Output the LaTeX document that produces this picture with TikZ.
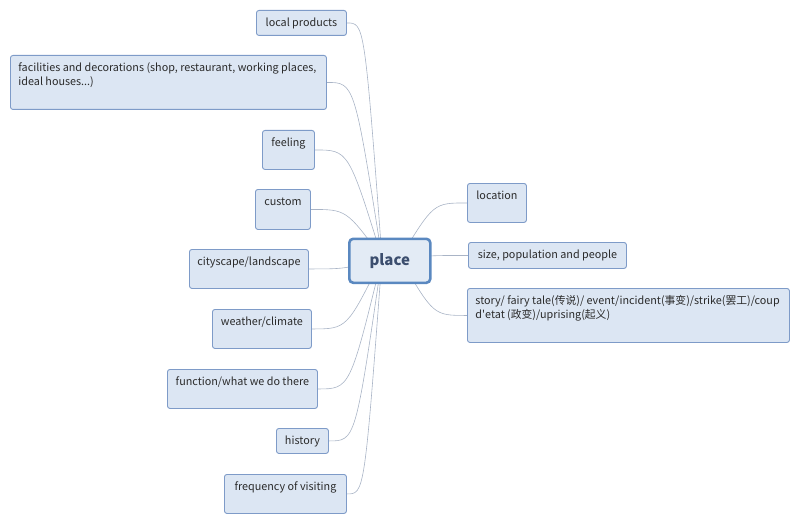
\documentclass[tikz,border=0pt]{standalone}
\usepackage{fontspec}
\setmainfont{Noto Sans CJK SC}
\usetikzlibrary{calc,backgrounds}
\definecolor{topicfill}{HTML}{DCE6F3}
\definecolor{topicdraw}{HTML}{7E9BC8}
\definecolor{hubdraw}{HTML}{5A88C0}
\definecolor{hubtext}{HTML}{3C4E6E}
\definecolor{linkgray}{HTML}{A9B4C6}
\definecolor{topictext}{HTML}{2B2B2B}
\newcommand{\twolines}[3]{\makebox[#1][l]{\begin{tabular}[t]{@{}l@{}}#2\\#3\end{tabular}}}

\tikzset{
	topic/.style={draw=topicdraw, fill=topicfill, rounded corners=2.5pt, line width=0.9pt,
		anchor=north west, inner xsep=0pt, inner ysep=6pt, text height=10pt,
		text=topictext, font=\fontsize{10.8}{14}\selectfont},
	longtopic/.style={topic, inner xsep=8pt, text depth=32pt},
	hub/.style={draw=hubdraw, fill=topicfill!80!white, rounded corners=4pt, line width=2.6pt,
		anchor=north west, minimum width=81pt, minimum height=44pt, inner sep=0pt,
		text=hubtext, font=\fontsize{15}{18}\selectfont\bfseries},
	link/.style={draw=linkgray, line width=0.6pt,
		to path={let \p1=(\tikztostart), \p2=(\tikztotarget) in
			.. controls ({0.5*\x1+0.5*\x2},\y1) .. (\tikztotarget)}}
}

\begin{document}
\begin{tikzpicture}[x=1pt, y=-1pt]
	\useasboundingbox (0,0) rectangle (800,524);
	% central topic
	\node[hub] (place) at (348,237.5) {place};
	\coordinate (hubL) at (382,258);
	\coordinate (hubR) at (400,258);
	% left branches
	\node[topic, minimum width=90pt, text depth=3pt] (prod) at (256,10) {local products};
	\node[longtopic] (fac) at (10,55)
		{\twolines{300pt}{facilities and decorations (shop, restaurant, working places,}{ideal houses...)}};
	\node[topic, minimum width=52pt, text depth=17pt] (feel) at (262,130) {feeling};
	\node[topic, minimum width=55pt, text depth=18pt] (cust) at (255,189) {custom};
	\node[topic, minimum width=119pt, text depth=17pt] (city) at (189,249) {cityscape/landscape};
	\node[topic, minimum width=99pt, text depth=17pt] (wthr) at (212,309) {weather/climate};
	\node[topic, minimum width=150pt, text depth=17pt] (func) at (167,369) {function/what we do there};
	\node[topic, minimum width=52pt, text depth=3pt] (hist) at (276,428) {history};
	\node[topic, minimum width=122pt, text depth=17pt] (freq) at (224,474) {frequency of visiting};
	% right branches
	\node[topic, minimum width=59pt, text depth=17pt] (loc) at (467,183) {location};
	\node[topic, minimum width=158pt, text depth=4pt] (size) at (468,242) {size, population and people};
	\node[longtopic] (story) at (467,288)
		{\twolines{306pt}{story/ fairy tale(传说)/ event/incident(事变)/strike(罢工)/coup}{d\textquotesingle etat (政变)/uprising(起义)}};
	\begin{scope}[on background layer]
		\path[link]
			(prod.east) edge (hubL)
			(fac.east) edge (hubL)
			(feel.east) edge (hubL)
			(cust.east) edge (hubL)
			(city.east) edge (hubL)
			(wthr.east) edge (hubL)
			(func.east) edge (hubL)
			(hist.east) edge (hubL)
			(freq.east) edge (hubL)
			(loc.west) edge (hubR)
			(size.west) edge (hubR)
			(story.west) edge (hubR);
	\end{scope}
\end{tikzpicture}
\end{document}
